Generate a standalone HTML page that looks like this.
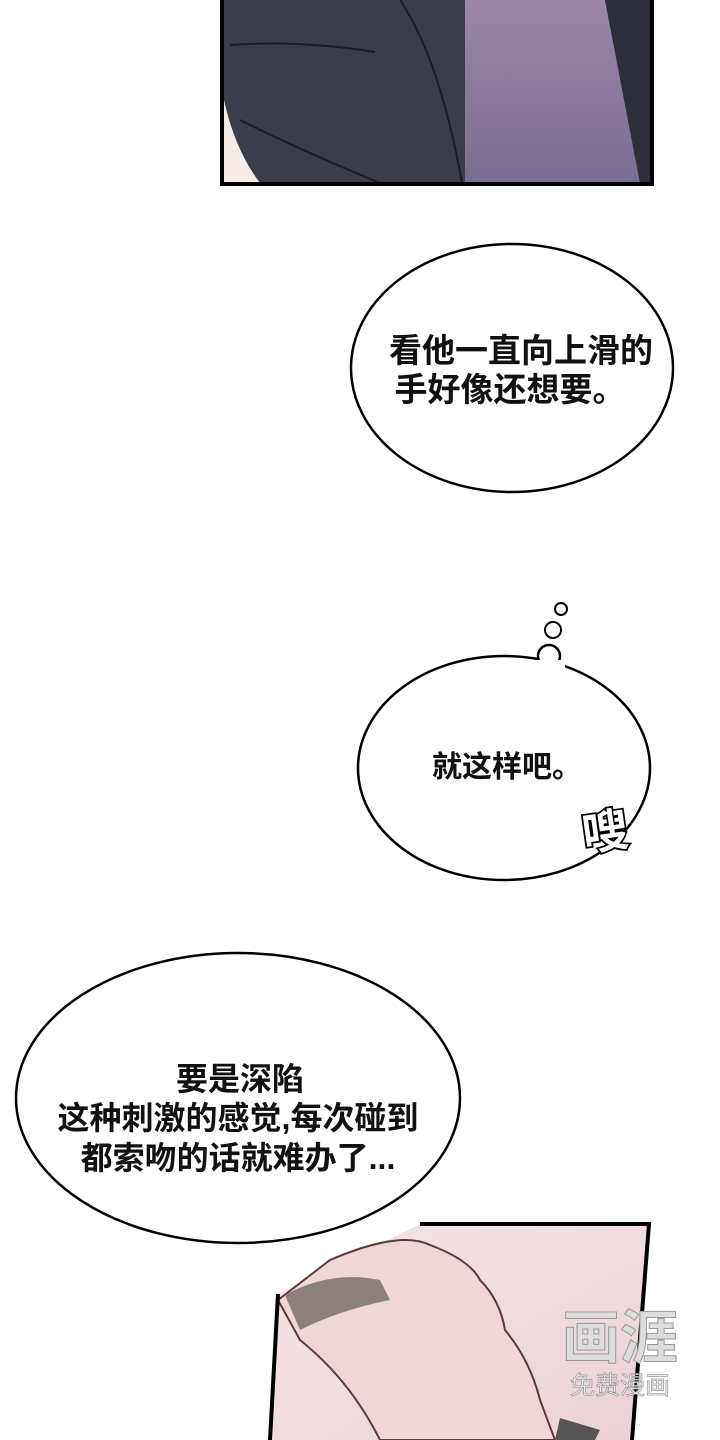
<!DOCTYPE html>
<html><head><meta charset="utf-8"><style>
html,body{margin:0;padding:0;background:#fff;}
svg{display:block;}
text{font-family:"Liberation Sans","Noto Sans CJK SC",sans-serif;font-weight:bold;fill:#111;}
</style></head><body>
<svg width="720" height="1440" viewBox="0 0 720 1440" xmlns="http://www.w3.org/2000/svg">
<defs>
<linearGradient id="pur" x1="0" y1="0" x2="0" y2="1"><stop offset="0" stop-color="#9a86a8"/><stop offset="1" stop-color="#7a6d92"/></linearGradient>
<linearGradient id="pink" x1="0" y1="0" x2="1" y2="1"><stop offset="0" stop-color="#f6e6e6"/><stop offset="1" stop-color="#e9d2d6"/></linearGradient>
</defs>
<rect x="224" y="0" width="426" height="183" fill="#3b3d4a"/>
<path d="M465 0 L605 0 L640 183 L465 183 Z" fill="url(#pur)"/>
<path d="M605 0 L650 0 L650 183 L640 183 Z" fill="#2e3039"/>
<path d="M224 100 Q235 150 260 183 L224 183 Z" fill="#f5ece8"/>
<path d="M230 45 Q300 40 375 52" stroke="#1c1d24" stroke-width="2" fill="none"/>
<path d="M400 0 Q440 60 462 183" stroke="#1c1d24" stroke-width="2" fill="none"/>
<path d="M240 120 Q300 150 380 183" stroke="#1c1d24" stroke-width="2" fill="none"/>
<rect x="222" y="-4" width="430" height="188" fill="none" stroke="#000" stroke-width="4"/>
<ellipse cx="512" cy="368" rx="161" ry="124" fill="#fff" stroke="#000" stroke-width="2.5"/>
<text x="521" y="362" font-size="33" text-anchor="middle">看他一直向上滑的</text>
<text x="510" y="401" font-size="33" text-anchor="middle">手好像还想要。</text>
<circle cx="561" cy="609" r="6" fill="#fff" stroke="#000" stroke-width="2"/>
<circle cx="553" cy="630" r="8" fill="#fff" stroke="#000" stroke-width="2"/>
<ellipse cx="504" cy="768" rx="146" ry="112" fill="#fff" stroke="#000" stroke-width="2.5"/>
<circle cx="549" cy="656" r="11" fill="#fff" stroke="#000" stroke-width="2.5"/>
<rect x="535" y="660" width="30" height="10" fill="#fff"/>
<text x="507" y="777" font-size="30" text-anchor="middle">就这样吧。</text>
<text x="605" y="848" font-size="46" text-anchor="middle" transform="rotate(-8 605 830)" style="fill:#fff;stroke:#000;stroke-width:3.5;paint-order:stroke">嗖</text>
<path d="M278 1294 L420 1224 L649 1224 L632 1440 L270 1440 Z" fill="url(#pink)"/>
<path d="M330 1260 Q400 1230 430 1245 Q470 1260 480 1280 Q500 1300 505 1330 Q530 1360 540 1400 L555 1440 L380 1440 Q350 1380 300 1340 L278 1300 Z" fill="#f0d6d6" stroke="#5a3a3a" stroke-width="2"/>
<path d="M285 1295 Q330 1270 380 1280 L390 1300 Q340 1310 300 1330 Z" fill="#8a807c"/>
<path d="M560 1418 L600 1430 L595 1440 L555 1440 Z" fill="#555"/>
<path d="M420 1224 L649 1224 L632 1440 M270 1440 L278 1294" fill="none" stroke="#000" stroke-width="4"/>
<ellipse cx="238" cy="1098" rx="222" ry="145" fill="#fff" stroke="#000" stroke-width="2.5"/>
<text x="240" y="1090" font-size="32" text-anchor="middle">要是深陷</text>
<text x="238" y="1129" font-size="32" text-anchor="middle">这种刺激的感觉,每次碰到</text>
<text x="238" y="1169" font-size="32" text-anchor="middle">都索吻的话就难办了...</text>
<text x="620" y="1358" font-size="58" text-anchor="middle" style="fill:#ddd;stroke:#999;stroke-width:1;font-weight:bold">画涯</text>
<text x="620" y="1394" font-size="25" text-anchor="middle" style="fill:#eee;stroke:#888;stroke-width:0.6;font-weight:normal">免费漫画</text>
</svg>
</body></html>
